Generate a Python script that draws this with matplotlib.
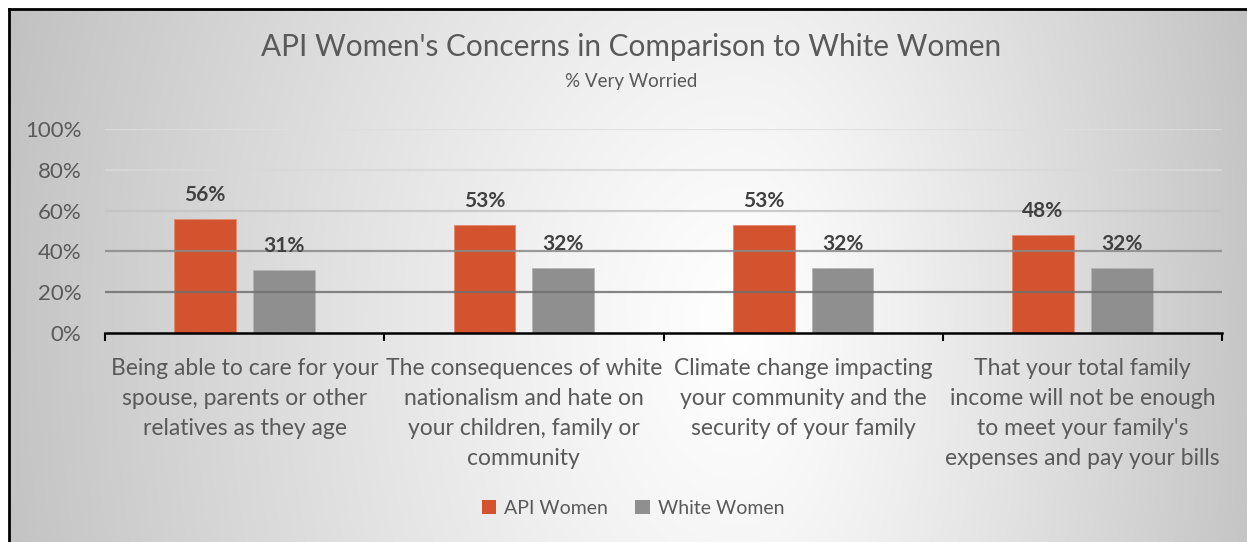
import numpy as np
import matplotlib.pyplot as plt
from matplotlib.lines import Line2D

plt.rcParams['font.family'] = ['Lato', 'DejaVu Sans']

categories = ["Being able to care for your\nspouse, parents or other\nrelatives as they age",
              "The consequences of white\nnationalism and hate on\nyour children, family or\ncommunity",
              "Climate change impacting\nyour community and the\nsecurity of your family",
              "That your total family\nincome will not be enough\nto meet your family's\nexpenses and pay your bills"]
api_women = [0.56, 0.53, 0.53, 0.48]
white_women = [0.31, 0.32, 0.32, 0.32]
series_names = ["API Women", "White Women"]
yticks = [0, 0.2, 0.4, 0.6, 0.8, 1.0]

W, H = 1247, 542
fig = plt.figure(figsize=(W/100, H/100), dpi=100)

# radial-ish gradient background like the office chart
bg = fig.add_axes([0, 0, 1, 1], zorder=-5)
yy, xx = np.mgrid[0:H, 0:W]
cx, cy = 740, 320
rx = np.where(xx < cx, 760.0, 540.0)
ry = np.where(yy < cy, 1000.0, 1200.0)
r = np.sqrt(((xx-cx)/rx)**2 + ((yy-cy)/ry)**2)
g = 1 - 0.24*np.clip(r, 0, 1)**1.15
img = np.dstack([g, g, g])
img[:9, :, :] = 1
img[:, :9, :] = 1
bg.imshow(img, aspect='auto', extent=(0, W, H, 0), interpolation='bilinear')
bg.set_xlim(0, W); bg.set_ylim(H, 0)
bg.axis('off')
bg.add_line(Line2D([9, 9], [9, H], color='black', lw=2))
bg.add_line(Line2D([9, W], [9, 9], color='black', lw=2))

ax = fig.add_axes([105/W, 1-333/H, (1222-105)/W, (333-129)/H])
ax.patch.set_alpha(0)
x = np.arange(len(categories))
w = 0.222
off = 0.141
b1 = ax.bar(x-off, api_women, w, color='#D4532F', edgecolor='#e08a6f', linewidth=0.6, zorder=2, label=series_names[0])
b2 = ax.bar(x+off, white_women, w, color='#8F8F8F', edgecolor='#b5b5b5', linewidth=0.6, zorder=2, label=series_names[1])

for bars, vals in [(b1, api_women), (b2, white_women)]:
    for bar, v in zip(bars, vals):
        ax.annotate(f"{v:.0%}", (bar.get_x()+bar.get_width()/2, v), xytext=(0, 17),
                    textcoords='offset points', ha='center', va='center',
                    fontsize=15, fontweight='bold', color='#404040')

ax.set_xlim(-0.5, len(categories)-0.5)
ax.set_ylim(0, 1)
ax.set_yticks(yticks)
ax.set_yticklabels([f"{t:.0%}" for t in yticks], fontsize=16, color='#595959')
ax.tick_params(axis='y', length=0, pad=17)
ax.set_xticks(x)
ax.set_xticklabels(categories, fontsize=16.5, color='#595959', linespacing=1.52)
ax.tick_params(axis='x', which='major', length=0, pad=18)
ax.set_xticks(np.arange(-0.5, len(categories)), minor=True)
ax.tick_params(axis='x', which='minor', length=6, width=1.5, color='black', direction='out')
for s in ['top', 'right', 'left']:
    ax.spines[s].set_visible(False)
ax.spines['bottom'].set_linewidth(1.8)
ax.spines['bottom'].set_zorder(4)

ax.grid(axis='y', zorder=3)
grid_cols = ['none', '#707070', '#8a8a8a', '#c4c4c4', '#d8d8d8', '#dedede']
for gl, c in zip(ax.get_ygridlines(), grid_cols):
    gl.set_color(c)
    gl.set_linewidth(1.6)
    gl.set_alpha(0.85)
ax.set_axisbelow(False)

fig.text(631/W, 1-47/H, "API Women's Concerns in Comparison to White Women", ha='center', va='center',
         fontsize=21.4, color='#595959')
fig.text(631/W, 1-82/H, "% Very Worried", ha='center', va='center', fontsize=13.5, color='#595959')

leg = fig.legend(handles=[b1, b2], loc='center', bbox_to_anchor=(633/W, 1-508/H), ncol=2, frameon=False,
                 fontsize=14, handlelength=0.75, handleheight=0.75, handletextpad=0.4, columnspacing=1.4)
for t in leg.get_texts():
    t.set_color('#595959')
for hdl in leg.legend_handles:
    hdl.set_edgecolor('none')

fig.savefig('out.png', dpi=100)
